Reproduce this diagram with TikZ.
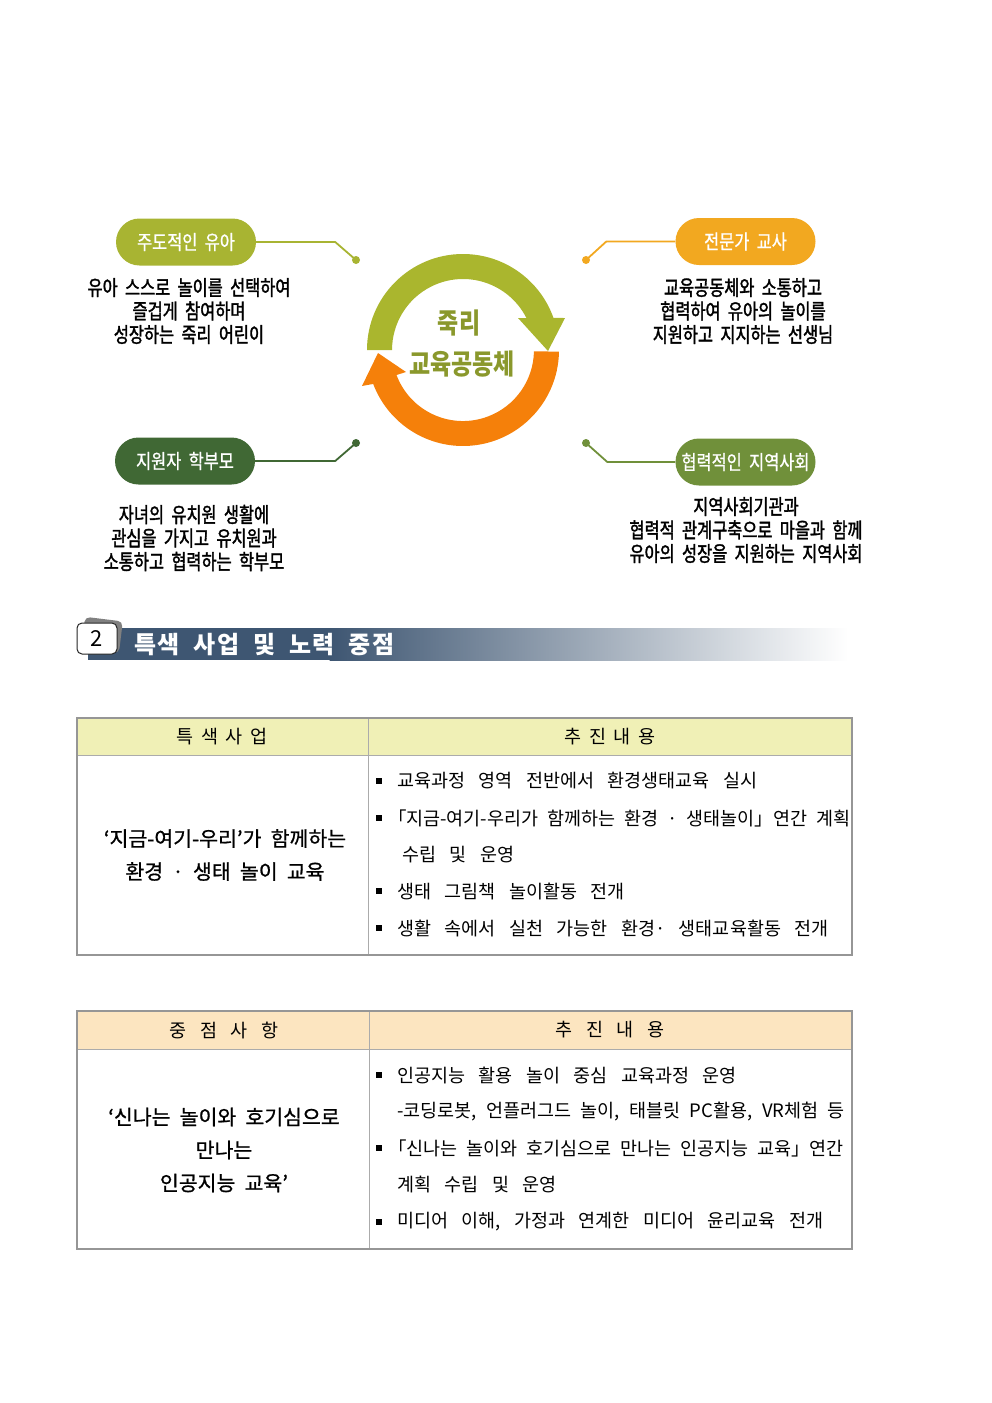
\documentclass[tikz,border=0pt]{standalone}
\usepackage{fontspec}
\setmainfont{Noto Sans CJK KR}
\newfontfamily\fdesc[FakeStretch=0.78,WordSpace=2,RawFeature={embolden=1.6}]{Noto Sans CJK KR}
\newfontfamily\fpill[FakeStretch=0.82,WordSpace=2,RawFeature={embolden=0.8}]{Noto Sans CJK KR}
\newfontfamily\fctr[FakeStretch=0.82]{Noto Sans CJK KR}
\newfontfamily\ftbl[WordSpace=2]{Noto Sans CJK KR}
\newfontfamily\ftleft[WordSpace=2,RawFeature={embolden=0.8}]{Noto Sans CJK KR}
\newfontfamily\fth[WordSpace=1.8]{Noto Sans CJK KR}
\newfontfamily\fhd[LetterSpace=6,WordSpace=2]{Noto Sans CJK KR}
\newcommand\lcb{{\addfontfeature{RawFeature=+palt}「}}
\newcommand\rcb{{\addfontfeature{RawFeature=+palt}」}}
\usetikzlibrary{shapes.misc}
\definecolor{cOlive}{RGB}{168,180,50}
\definecolor{cGold}{RGB}{242,168,32}
\definecolor{cDkGreen}{RGB}{64,104,52}
\definecolor{cMdGreen}{RGB}{112,144,58}
\definecolor{cArcOl}{RGB}{170,182,46}
\definecolor{cArcOr}{RGB}{245,128,10}
\definecolor{cCtr}{RGB}{138,152,44}
\definecolor{cHdr}{RGB}{62,86,114}
\definecolor{cT1}{RGB}{240,240,182}
\definecolor{cT2}{RGB}{252,229,192}
\definecolor{cBorder}{RGB}{150,150,150}
\begin{document}
\begin{tikzpicture}[x=1pt,y=-1pt,
  pill/.style={rounded rectangle, minimum width=140pt, minimum height=47pt, inner sep=0pt, text=white, font=\fpill\fontsize{20}{22}\selectfont},
  dotnode/.style={circle, minimum size=8pt, inner sep=0pt},
  conn/.style={line width=1.8pt},
  desc/.style={align=center, inner sep=0pt, font=\fdesc\fontsize{21}{23.5}\selectfont},
  ctr/.style={inner sep=0pt, text=cCtr, font=\fctr\bfseries\fontsize{28}{30}\selectfont},
  tl/.style={anchor=west, inner sep=0pt, font=\ftbl\fontsize{18.5}{20}\selectfont},
  th/.style={inner sep=0pt, font=\fth\fontsize{18.5}{20}\selectfont},
  tleft/.style={align=center, inner sep=0pt, font=\ftleft\fontsize{20.5}{33}\selectfont},
  bul/.style={fill=black, minimum size=6pt, inner sep=0pt},
  tborder/.style={draw=cBorder, line width=2pt},
  tinner/.style={draw=cBorder!80, line width=0.9pt}]
\useasboundingbox (0,0) rectangle (992,1403);

% ---------- cycle ----------
\begin{scope}[shift={(463,350)}, yscale=-1]
\fill[cArcOl] (180:96) arc[start angle=180, end angle=19.5, radius=96]
  -- (102,32) -- (85,-1) -- (55,32) -- (63.4,32)
  arc[start angle=26.8, end angle=180, radius=71] -- cycle;
\fill[cArcOr] (-1:96) arc[start angle=-1, end angle=-159.3, radius=96]
  -- (-101,-36) -- (-85,-3) -- (-57,-22) -- (-66.5,-25)
  arc[start angle=-159.4, end angle=-1, radius=71] -- cycle;
\end{scope}
\node[ctr] (c1) at (459,323) {죽리};
\node[ctr] (c2) at (462,364) {교육공동체};

% ---------- pills ----------
\node[pill, fill=cOlive] (p1) at (186,242) {주도적인 유아};
\node[pill, fill=cGold] (p2) at (745.5,241.5) {전문가 교사};
\node[pill, fill=cDkGreen] (p3) at (185,461) {지원자 학부모};
\node[pill, fill=cMdGreen] (p4) at (745.5,462) {협력적인 지역사회};

\node[dotnode, fill=cOlive] (d1) at (356,260) {};
\node[dotnode, fill=cGold] (d2) at (586,260) {};
\node[dotnode, fill=cDkGreen] (d3) at (356,443) {};
\node[dotnode, fill=cMdGreen] (d4) at (586,443) {};

\draw[conn, cOlive] (p1.east) -- ++(79,0) -- (d1.center);
\draw[conn, cGold] (p2.west) -- ++(-69,0) -- (d2.center);
\draw[conn, cDkGreen] (p3.east) -- ++(80,0) -- (d3.center);
\draw[conn, cMdGreen] (p4.west) -- ++(-68,0) -- (d4.center);

\node[desc] (t1) at (189,311) {유아 스스로 놀이를 선택하여\\즐겁게 참여하며\\성장하는 죽리 어린이};
\node[desc] (t2) at (743,311) {교육공동체와 소통하고\\협력하여 유아의 놀이를\\지원하고 지지하는 선생님};
\node[desc] (t3) at (194,538) {자녀의 유치원 생활에\\관심을 가지고 유치원과\\소통하고 협력하는 학부모};
\node[desc] (t4) at (746,530) {지역사회기관과\\협력적 관계구축으로 마을과 함께\\유아의 성장을 지원하는 지역사회};

% ---------- section header ----------
\fill[cHdr] (88,628) rectangle (330,660);
\shade[left color=cHdr, right color=white] (329.5,628) rectangle (848,660);
\node[fill=black!50, rounded corners=5pt, rotate=-7, minimum width=38pt, minimum height=32pt] (bsh) at (102,635) {};
\node[draw=black!85, line width=1pt, fill=white, rounded corners=5pt, minimum width=40pt, minimum height=31pt, font=\fontsize{22}{24}\selectfont] (badge) at (97,638.5) {2};
\node[anchor=west, inner sep=0pt, text=white, font=\fhd\bfseries\fontsize{24}{26}\selectfont] (title) at (134,645) {특색 사업 및 노력 중점};

% ---------- table 1 ----------
\fill[cT1] (77,718) rectangle (852,755);
\draw[tinner] (77,755) -- (852,755);
\draw[tinner] (368,718) -- (368,955);
\draw[tborder] (77,718) rectangle (852,955);
\node[th] (h11) at (222,737) {특 색 사 업};
\node[th] (h12) at (610,737) {추 진 내 용};
\node[tleft] (l1) at (225,855) {‘지금-여기-우리’가 함께하는\\환경 · 생태 놀이 교육};
\node[bul] (b11) at (379,781) {};
\node[bul] (b12) at (379,818) {};
\node[bul] (b13) at (379,891) {};
\node[bul] (b14) at (379,928) {};
\node[tl] (r11) at (397,781) {교육과정 영역 전반에서 환경생태교육 실시};
\node[tl] (r12) at (397,818) {\makebox[451pt][s]{\lcb 지금-여기-우리가 함께하는 환경 · 생태놀이\rcb\ 연간 계획}};
\node[tl] (r13) at (402,855) {수립 및 운영};
\node[tl] (r14) at (397,891) {생태 그림책 놀이활동 전개};
\node[tl] (r15) at (397,928) {생활 속에서 실천 가능한 환경· 생태교육활동 전개};

% ---------- table 2 ----------
\fill[cT2] (77,1011) rectangle (852,1049);
\draw[tinner] (77,1049) -- (852,1049);
\draw[tinner] (369,1011) -- (369,1249);
\draw[tborder] (77,1011) rectangle (852,1249);
\node[th] (h21) at (224,1030) {중 점 사 항};
\node[th] (h22) at (610,1030) {추 진 내 용};
\node[tleft] (l2) at (224,1150) {‘신나는 놀이와 호기심으로\\만나는\\인공지능 교육’};
\node[bul] (b21) at (379,1075) {};
\node[bul] (b22) at (379,1148) {};
\node[bul] (b23) at (379,1222) {};
\node[tl] (r21) at (397,1075) {인공지능 활용 놀이 중심 교육과정 운영};
\node[tl] (r22) at (397,1112) {\makebox[439pt][s]{-코딩로봇, 언플러그드 놀이, 태블릿 PC활용, VR체험 등}};
\node[tl] (r23) at (397,1148) {\makebox[431pt][s]{\lcb 신나는 놀이와 호기심으로 만나는 인공지능 교육\rcb\ 연간}};
\node[tl] (r24) at (397,1185) {계획 수립 및 운영};
\node[tl] (r25) at (397,1222) {미디어 이해, 가정과 연계한 미디어 윤리교육 전개};
\end{tikzpicture}
\end{document}
